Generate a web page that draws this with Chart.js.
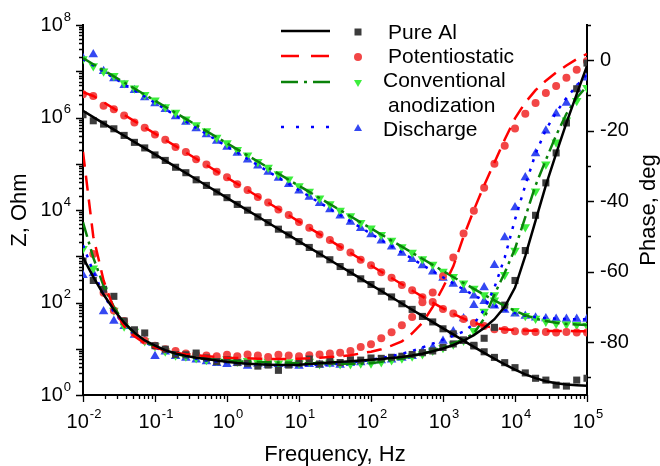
<!DOCTYPE html>
<html><head><meta charset="utf-8">
<script src="https://cdn.jsdelivr.net/npm/chart.js@4.4.0/dist/chart.umd.min.js"></script>
<style>html,body{margin:0;padding:0;background:#fff;}#wrap{width:660px;height:466px;}</style>
</head><body><div id="wrap"><canvas id="c" width="660" height="466"></canvas></div>
<script>
// Frequencies (Hz), 7 points per decade
const freq = [0.01,0.01389,0.01931,0.02683,0.03728,0.05179,0.07197,
  0.1,0.1389,0.1931,0.2683,0.3728,0.5179,0.7197,
  1,1.389,1.931,2.683,3.728,5.179,7.197,
  10,13.89,19.31,26.83,37.28,51.79,71.97,
  100,138.9,193.1,268.3,372.8,517.9,719.7,
  1000,1389,1931,2683,3728,5179,7197,
  10000,13895,19307,26827,37276,51795,71969,100000];

const seriesNames = ['Pure Al','Potentiostatic','Conventional anodization','Discharge'];

// |Z| measured (Ohm)
const zAl = [1.15e6,8.5e5,7.2e5,5.7e5,4.1e5,2.9e5,2.2e5,1.55e5,1.18e5,8.4e4,6.4e4,4.5e4,3.4e4,2.45e4,1.85e4,1.32e4,9900,7100,5350,3850,2900,2080,1550,1120,840,600,450,325,245,175,132,94,71,50,38,27,21,15.5,11.5,8.6,6.5,5.0,3.9,3.0,2.3,2.1,1.64,1.56,2.1,2.3];
const zPot = [3.2e6,2.9e6,1.8e6,1.5e6,1.1e6,7.8e5,6.0e5,4.3e5,3.3e5,2.3e5,1.8e5,1.25e5,9.6e4,6.7e4,5.1e4,3.6e4,2.7e4,1.9e4,1.45e4,1.03e4,7800,5500,4150,2950,2250,1580,1200,840,640,450,345,240,185,130,102,72,58,44,36,31,26.5,25.5,24,23.5,23,23,22.5,23,22.5,22.5];
const zConv = [1.85e7,1.3e7,1.0e7,8.0e6,5.6e6,4.3e6,3.1e6,2.35e6,1.68e6,1.28e6,9.2e5,6.9e5,5.1e5,3.7e5,2.8e5,2.0e5,1.52e5,1.1e5,8.3e4,6.0e4,4.6e4,3.3e4,2.5e4,1.8e4,1.35e4,9800,7400,5300,4050,2900,2200,1580,1200,870,660,470,360,260,200,145,112,83,66,52,45,39,35,34,33,32];
const zDis = [1.9e7,2.3e7,1.0e7,7.0e6,5.0e6,3.9e6,2.7e6,2.0e6,1.5e6,1.05e6,8.0e5,5.8e5,4.3e5,3.1e5,2.3e5,1.7e5,1.22e5,9.1e4,6.6e4,4.9e4,3.6e4,2.6e4,1.9e4,1.4e4,1.02e4,7500,5500,4050,2950,2150,1600,1170,860,630,460,340,250,185,140,107,85,69,57,51,47,45,44,44,44,44];

// |Z| fitted curves (Ohm)
const zAlFit = [1.39e6,1.02e6,7.47e5,5.48e5,4.03e5,2.96e5,2.17e5,1.59e5,1.17e5,8.58e4,6.30e4,4.62e4,3.39e4,2.49e4,1.83e4,1.34e4,9840,7220,5300,3890,2860,2100,1540,1130,830,608,447,328,241,177,130,95.2,69.8,51.3,37.6,27.6,20.4,15.0,11.0,8.17,6.09,4.59,3.53,2.80,2.31,1.99,1.80,1.69,1.63,1.59];
const zPotFit = [3.55e6,2.92e6,2.14e6,1.56e6,1.14e6,8.37e5,6.12e5,4.48e5,3.27e5,2.40e5,1.75e5,1.28e5,9.38e4,6.86e4,5.02e4,3.67e4,2.69e4,1.96e4,1.44e4,1.05e4,7690,5620,4110,3010,2200,1610,1180,861,630,461,338,248,182,134,99.5,74.6,56.9,44.8,36.6,31.4,28.2,26.3,25.3,24.7,24.4,24.2,24.1,24.1,24.0,24.0];
const zConvFit = [1.92e7,1.42e7,1.05e7,7.76e6,5.73e6,4.24e6,3.13e6,2.31e6,1.71e6,1.26e6,9.31e5,6.88e5,5.08e5,3.76e5,2.77e5,2.05e5,1.51e5,1.12e5,8.26e4,6.11e4,4.51e4,3.33e4,2.46e4,1.82e4,1.34e4,9930,7330,5420,4000,2960,2180,1610,1190,882,651,482,356,264,197,147,111,84.5,66,53.4,44.9,39.6,36.3,34.4,33.3,32.7];
const zDisFit = [1.82e7,1.33e7,9.78e6,7.17e6,5.26e6,3.85e6,2.83e6,2.07e6,1.52e6,1.11e6,8.17e5,5.98e5,4.39e5,3.22e5,2.36e5,1.73e5,1.27e5,9.30e4,6.82e4,5.00e4,3.66e4,2.69e4,1.97e4,1.44e4,1.06e4,7760,5690,4170,3060,2240,1640,1210,884,648,477,351,259,192,144,110,85.4,69.1,58.5,51.9,48.0,45.7,44.5,43.8,43.4,43.2];

// Phase measured (deg)
const phAl = [-57,-62.5,-65,-67,-74,-76.5,-77.4,-81,-82,-83.5,-83.6,-83.1,-84.5,-85.5,-85,-85.8,-86,-86.8,-86.5,-88,-86.5,-86,-84.8,-86.2,-85.5,-85.8,-85,-85.1,-84.5,-84.6,-84.3,-84,-83.5,-83,-82.5,-81.5,-80.5,-79.5,-80.9,-78.9,-75.8,-69.5,-62.5,-54,-44,-34.8,-26.3,-17.8,-8.1,-0.8];
const phPot = [null,-55,-66,-71,-74,-77.5,-79.5,-81,-82,-82.5,-83.2,-83.5,-83.8,-84,-83.6,-84,-83.5,-83.8,-84.2,-83.6,-83.8,-84,-83.7,-83.5,-83.2,-83,-82.5,-81.4,-80.6,-78.9,-77.2,-75.2,-72.9,-68.7,-65.9,-61.3,-56,-49.2,-42.7,-36.2,-29.4,-24.3,-19.4,-15.2,-12.1,-9.3,-7.3,-5,-2.7,-0.2];
const phConv = [-53.5,-59,-65.3,-71,-75.5,-77,-79.7,-81.1,-82.6,-83.7,-84,-84.5,-85,-85.2,-84.8,-85.5,-85.3,-85.8,-85.5,-86,-85.6,-86,-85.5,-86.2,-85.8,-86.2,-86.2,-86,-86,-85.6,-85.1,-84.6,-84,-83.4,-82.4,-81.6,-80.6,-79.5,-76.8,-71.3,-66.6,-60.9,-54,-47.3,-37.2,-29.5,-23.3,-17,-11.5,-7.8];
const phDis = [-61,-60.5,-71.3,-74,-75.5,-78,-79.5,-84,-82.7,-84,-84.5,-85,-85.5,-86,-86.3,-86,-86.8,-86.2,-86.5,-86.3,-86.5,-86.8,-86.3,-86.5,-86.2,-86.5,-86,-85.8,-85.5,-85.2,-85,-84.5,-84,-82.6,-81.5,-79.7,-77,-73.3,-69.5,-64.5,-58.2,-50.3,-41.8,-33.3,-26.5,-20,-15.2,-12.1,-8.1,-5];

// Phase fitted curves (deg)
const phAlFit = [-56,-61.5,-66.5,-70.8,-74.5,-77.3,-79.5,-81,-82.3,-83.2,-83.9,-84.4,-84.8,-85.2,-85.6,-85.9,-86.1,-86.3,-86.4,-86.5,-86.5,-86.4,-86.2,-86,-85.8,-85.6,-85.4,-85.2,-85,-84.8,-84.5,-84.2,-83.8,-83.3,-82.6,-81.8,-80.8,-79.6,-78,-76,-73.5,-70,-64.5,-55.5,-45.5,-35.5,-26.5,-17.8,-9.6,-1.6];
const phPotFit = [-26,-50,-62.5,-70.5,-75.5,-78.3,-80.3,-81.5,-82.4,-83,-83.4,-83.7,-84,-84.2,-84.4,-84.5,-84.6,-84.7,-84.8,-84.8,-84.8,-84.7,-84.6,-84.4,-84.2,-84,-83.7,-83.2,-82.7,-82,-81,-79.8,-77.5,-74.5,-70,-64.5,-58.5,-50,-42.5,-35.5,-29,-22.5,-16.5,-12,-8.5,-5.8,-3.5,-1.5,0.3,1.8];
const phConvFit = [-46,-56,-64,-70,-74.5,-77.5,-79.8,-81.3,-82.5,-83.3,-84,-84.5,-84.8,-85,-85.2,-85.4,-85.5,-85.6,-85.7,-85.8,-85.9,-86,-86,-86,-86,-86.1,-86.1,-86.1,-86,-85.6,-85.1,-84.6,-84,-83.3,-82.5,-81.5,-80.3,-79.3,-77.5,-73.3,-66.5,-60.3,-53.5,-44.5,-35.5,-28.3,-21.3,-15.2,-10.7,-7.3];
const phDisFit = [-52.5,-60,-66.5,-71.5,-75,-77.8,-80,-81.5,-82.7,-83.5,-84.2,-84.7,-85.2,-85.5,-85.8,-86,-86.2,-86.3,-86.4,-86.5,-86.5,-86.5,-86.5,-86.4,-86.3,-86.1,-85.8,-85.5,-85,-84.5,-84,-83.3,-82.5,-81.5,-80.4,-79.3,-78.2,-77,-74.8,-70.8,-64.5,-56,-45.2,-35.5,-26.5,-19.7,-14.8,-10.7,-7.2,-4];

// Axis tick values
const zDecades = [0,1,2,3,4,5,6,7,8];
const zLabelDecades = [0,2,4,6,8];
const fDecades = [-2,-1,0,1,2,3,4,5];
const phaseMajor = [-80,-60,-40,-20,0];
const phaseMinor = [-90,-70,-50,-30,-10,10];

const FONT = '"Liberation Sans", Arial, sans-serif';
const C = {
  alLine:'#000000', potLine:'#ff0000', convLine:'#0a820a', disLine:'#0000ff',
  alMark:'#3c3c3c', potMark:'#f24646', convMark:'#3cee3c', disMark:'#3448f2'
};
const DASH = { al:[], pot:[15,9], conv:[15,5,3,5], dis:[3,7] };

function pts(ys){ return freq.map((f,i)=>({x:f, y: ys[i]})); }
function lineDs(label, ys, axis, color, dash){
  return {label, data:pts(ys), yAxisID:axis, showLine:true, borderColor:color, borderWidth:2.5,
    borderDash:dash, pointRadius:0, fill:false, tension:0};
}
function markDs(label, ys, axis, color, style, r, rot){
  return {label, data:pts(ys), yAxisID:axis, showLine:false, pointStyle:style, pointRadius:r,
    pointRotation:rot||0, backgroundColor:color, borderColor:color, borderWidth:0};
}

const datasets = [
  lineDs('Pure Al |Z| fit', zAlFit, 'yZ', C.alLine, DASH.al),
  lineDs('Pure Al phase fit', phAlFit, 'yP', C.alLine, DASH.al),
  lineDs('Potentiostatic |Z| fit', zPotFit, 'yZ', C.potLine, DASH.pot),
  lineDs('Potentiostatic phase fit', phPotFit, 'yP', C.potLine, DASH.pot),
  lineDs('Conventional |Z| fit', zConvFit, 'yZ', C.convLine, DASH.conv),
  lineDs('Conventional phase fit', phConvFit, 'yP', C.convLine, DASH.conv),
  lineDs('Discharge |Z| fit', zDisFit, 'yZ', C.disLine, DASH.dis),
  lineDs('Discharge phase fit', phDisFit, 'yP', C.disLine, DASH.dis),
  markDs('Pure Al |Z|', zAl, 'yZ', C.alMark, 'rect', 5),
  markDs('Pure Al phase', phAl, 'yP', C.alMark, 'rect', 5),
  markDs('Potentiostatic |Z|', zPot, 'yZ', C.potMark, 'circle', 4),
  markDs('Potentiostatic phase', phPot, 'yP', C.potMark, 'circle', 4),
  markDs('Conventional |Z|', zConv, 'yZ', C.convMark, 'triangle', 5.5, 180),
  markDs('Conventional phase', phConv, 'yP', C.convMark, 'triangle', 5.5, 180),
  markDs('Discharge |Z|', zDis, 'yZ', C.disMark, 'triangle', 5.5),
  markDs('Discharge phase', phDis, 'yP', C.disMark, 'triangle', 5.5)
];

function drawPow(ctx, e, x, y, align){
  const base='10', ex=String(e);
  ctx.font = '20px '+FONT; const w1 = ctx.measureText(base).width;
  ctx.font = '13px '+FONT; const w2 = ctx.measureText(ex).width;
  const tot = w1 + 1 + w2;
  const x0 = align==='center' ? x - tot/2 : x - tot;
  ctx.textAlign='left'; ctx.textBaseline='middle';
  ctx.font='20px '+FONT; ctx.fillText(base, x0, y);
  ctx.font='13px '+FONT; ctx.fillText(ex, x0+w1+1, y-8);
}

const axesPlugin = {
  id:'axesDecor',
  afterDraw(chart){
    const ctx = chart.ctx, ca = chart.chartArea;
    const xs = chart.scales.x, yz = chart.scales.yZ, yp = chart.scales.yP;
    ctx.save();
    ctx.strokeStyle='#000'; ctx.lineWidth=1.3; ctx.setLineDash([]);
    ctx.beginPath();
    fDecades.forEach(e=>{
      for(let m=1;m<=9;m++){
        if(e===5 && m>1) break;
        const px = Math.round(xs.getPixelForValue(m*Math.pow(10,e)))+0.5;
        const len = m===1?7:4;
        ctx.moveTo(px, ca.bottom); ctx.lineTo(px, ca.bottom+len);
      }
    });
    zDecades.forEach(e=>{
      for(let m=1;m<=9;m++){
        if(e===8 && m>1) break;
        const py = Math.round(yz.getPixelForValue(m*Math.pow(10,e)))+0.5;
        const len = m===1?7:4;
        ctx.moveTo(ca.left, py); ctx.lineTo(ca.left-len, py);
      }
    });
    phaseMajor.forEach(v=>{ const py=Math.round(yp.getPixelForValue(v))+0.5; ctx.moveTo(ca.right,py); ctx.lineTo(ca.right+7,py); });
    phaseMinor.forEach(v=>{ const py=Math.round(yp.getPixelForValue(v))+0.5; ctx.moveTo(ca.right,py); ctx.lineTo(ca.right+4,py); });
    ctx.stroke();

    ctx.fillStyle='#000';
    fDecades.forEach(e=> drawPow(ctx, e, xs.getPixelForValue(Math.pow(10,e))+1, 422, 'center'));
    zLabelDecades.forEach(e=> drawPow(ctx, e, 71, yz.getPixelForValue(Math.pow(10,e)), 'right'));

    ctx.font='22px '+FONT; ctx.textAlign='center'; ctx.textBaseline='middle';
    ctx.fillText('Frequency, Hz', (ca.left+ca.right)/2, 455);
    ctx.save(); ctx.translate(20,(ca.top+ca.bottom)/2); ctx.rotate(-Math.PI/2); ctx.fillText('Z, Ohm',0,0); ctx.restore();
    ctx.save(); ctx.translate(649,(ca.top+ca.bottom)/2); ctx.rotate(-Math.PI/2); ctx.fillText('Phase, deg',0,0); ctx.restore();

    const rows = [
      {t:'Pure Al', tx:388, ty:33, ly:31, col:C.alLine, dash:[], mk:'rect', mc:C.alMark},
      {t:'Potentiostatic', tx:388, ty:57, ly:56, col:C.potLine, dash:[18,12], mk:'circle', mc:C.potMark},
      {t:'Conventional', tx:383, ty:81, ly:82, col:C.convLine, dash:[17,6,3,6], mk:'down', mc:C.convMark},
      {t:'anodization', tx:388, ty:106},
      {t:'Discharge', tx:383, ty:130, ly:127, col:C.disLine, dash:[3,12], mk:'up', mc:C.disMark}
    ];
    ctx.font='21px '+FONT; ctx.textAlign='left'; ctx.textBaseline='middle';
    rows.forEach(r=>{
      ctx.fillStyle='#000'; ctx.fillText(r.t, r.tx, r.ty);
      if(!r.col) return;
      ctx.save(); ctx.strokeStyle=r.col; ctx.lineWidth=2.5; ctx.setLineDash(r.dash);
      ctx.beginPath(); ctx.moveTo(281, r.ly); ctx.lineTo(330, r.ly); ctx.stroke(); ctx.restore();
      ctx.fillStyle=r.mc; ctx.beginPath();
      const mx=358, my=r.ly+1;
      if(r.mk==='rect'){ ctx.rect(mx-3.5,my-3.5,7,7); }
      else if(r.mk==='circle'){ ctx.arc(mx,my,4,0,Math.PI*2); }
      else if(r.mk==='down'){ ctx.moveTo(mx-4,my-3); ctx.lineTo(mx+4,my-3); ctx.lineTo(mx,my+4); ctx.closePath(); }
      else { ctx.moveTo(mx-4,my+3); ctx.lineTo(mx+4,my+3); ctx.lineTo(mx,my-4); ctx.closePath(); }
      ctx.fill();
    });
    ctx.restore();
  }
};

const noGrid = {display:false, drawTicks:false};
new Chart(document.getElementById('c'), {
  type:'scatter',
  data:{datasets},
  options:{
    responsive:false, animation:false, devicePixelRatio:1,
    layout:{padding:{top:24,left:0,right:0,bottom:0}},
    plugins:{legend:{display:false}, tooltip:{enabled:false}},
    scales:{
      x:{type:'logarithmic', position:'bottom', min:0.01, max:1e5, grid:noGrid,
         border:{display:true,color:'#000',width:2}, ticks:{display:false},
         afterFit(s){ s.height = 71; }},
      yZ:{type:'logarithmic', position:'left', min:1, max:1e8, grid:noGrid,
         border:{display:true,color:'#000',width:2}, ticks:{display:false},
         afterFit(s){ s.width = 83; }},
      yP:{type:'linear', position:'right', min:-95, max:10, grid:noGrid,
         border:{display:true,color:'#000',width:2},
         afterBuildTicks(s){ s.ticks = phaseMajor.map(v=>({value:v})); },
         ticks:{display:true, color:'#000', padding:13, font:{family:FONT,size:20},
           callback:(v)=>String(v)},
         afterFit(s){ s.width = 73; }}
    }
  },
  plugins:[axesPlugin]
});
</script></body></html>
